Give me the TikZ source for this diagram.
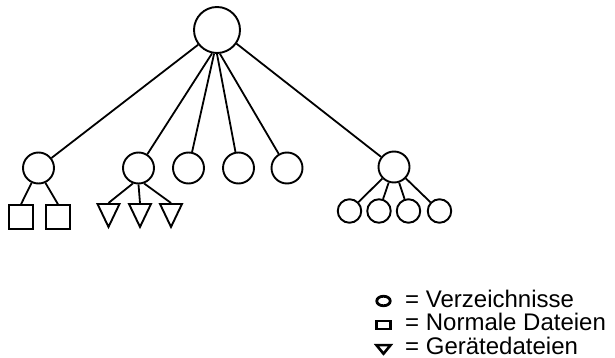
\documentclass[tikz,border=0pt]{standalone}
\usepackage{fontspec}
\newfontfamily\legendfont{Liberation Sans}
\usetikzlibrary{shapes.geometric,positioning}

\tikzset{
    dir/.style={circle, draw, line width=1.9pt, inner sep=0pt},
    plainfile/.style={rectangle, draw, line width=1.9pt, inner sep=0pt, minimum size=23.5pt},
    devfile/.style={isosceles triangle, isosceles triangle stretches, shape border rotate=-90, draw, line width=1.9pt, inner sep=0pt, minimum width=22pt, minimum height=23pt, anchor=north},
    branch/.style={line width=1.8pt},
    legendtext/.style={anchor=base west, inner sep=0pt, font=\legendfont\fontsize{24}{28}\selectfont},
}

\begin{document}
\begin{tikzpicture}[x=1pt, y=-1pt]
    \useasboundingbox (0,0) rectangle (615,358);
    \node [dir, minimum size=46pt] (root) at (217,30) {}; % root directory
    \node [dir, minimum size=31pt] (d1) at (38.5,168) {}; % dir with two plain files
    \node [dir, minimum size=31pt] (d2) at (138.5,168) {}; % dir with three device files
    \node [dir, minimum size=31pt] (d3) at (188.5,168) {}; % empty dirs
    \node [dir, minimum size=31pt] (d4) at (238.5,168) {};
    \node [dir, minimum size=31pt] (d5) at (287,168) {};
    \node [dir, minimum size=31pt] (d6) at (394,167) {}; % dir with four subdirs
    \node [plainfile] (f1) at (21,217) {}; % plain files below d1
    \node [plainfile] (f2) at (58,217) {};
    \node [devfile] (t1) at (108.5,203) {}; % device files below d2
    \node [devfile] (t2) at (140,203) {};
    \node [devfile] (t3) at (171,203) {};
    \node [dir, minimum size=23.5pt] (s1) at (349.5,211) {}; % subdirs below d6
    \node [dir, minimum size=23.5pt] (s2) at (379,211) {};
    \node [dir, minimum size=23.5pt] (s3) at (408.5,211) {};
    \node [dir, minimum size=23.5pt] (s4) at (439.5,211) {};

    % edges of the tree
    \draw [branch] (root.218) -- (d1);
    \draw [branch] (root.-102) -- (d2);
    \draw [branch] (root.-97) -- (d3);
    \draw [branch] (root.-90) -- (d4);
    \draw [branch] (root.-83) -- (d5);
    \draw [branch] (root.-35) -- (d6);
    \draw [branch] (d1.245) -- (f1.north);
    \draw [branch] (d1.295) -- (f2.north);
    \draw [branch] (d2.250) -- (t1.north);
    \draw [branch] (d2.south) -- (t2.north);
    \draw [branch] (d2.290) -- (t3.north);
    \foreach \s in {s1,s2,s3,s4}
        \draw [branch] (d6) -- (\s);

    % legend
    \node [ellipse, draw, line width=2.8pt, inner sep=0pt, minimum width=13.5pt, minimum height=9.5pt] (ldir) at (383.5,301) {};
    \node [rectangle, draw, line width=2.8pt, inner sep=0pt, minimum width=13.5pt, minimum height=8pt] (lplain) at (383.5,325) {};
    \node [isosceles triangle, isosceles triangle stretches, shape border rotate=-90, draw, line width=2.6pt, inner sep=0pt, minimum width=14pt, minimum height=8.5pt] (ldev) at (383.5,348.5) {};
    \node [legendtext] (tdir) at (405,307) {= Verzeichnisse};
    \node [legendtext] (tplain) at (405,330.5) {= Normale Dateien};
    \node [legendtext] (tdev) at (405,354) {= Gerätedateien};
\end{tikzpicture}
\end{document}
